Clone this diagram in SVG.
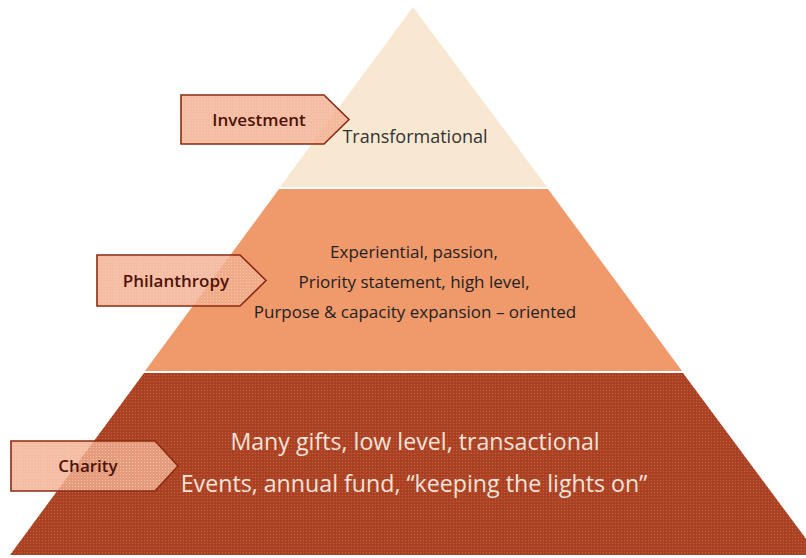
<svg xmlns="http://www.w3.org/2000/svg" width="806" height="558" viewBox="0 0 806 558">
<style>
.lbl{fill:url(#lblpat);stroke:#8A2B12;stroke-width:1.6}
.lt{font-family:"Open Sans","Liberation Sans",sans-serif;font-size:17px;font-weight:600;fill:#4E1207;text-anchor:middle}
.t{font-family:"Open Sans","Liberation Sans",sans-serif;text-anchor:middle}
</style>
<defs>
<pattern id="darkpat" width="3" height="3" patternUnits="userSpaceOnUse">
<rect width="3" height="3" fill="#AD4325"/>
<rect x="0" y="0" width="1" height="1" fill="#C7603E"/>
<rect x="1.5" y="1.5" width="1" height="1" fill="#9A381C"/>
</pattern>
<pattern id="lblpat" width="3" height="3" patternUnits="userSpaceOnUse">
<rect width="3" height="3" fill="#F3AE90" fill-opacity="0.82"/>
<rect x="0" y="0" width="1" height="1" fill="#F8CDB8" fill-opacity="0.8"/>
</pattern>
</defs>
<rect width="806" height="558" fill="#FFFFFF"/>
<g id="tier-top">
<polygon points="413,7 547,187 280,187" fill="#F8E8D2"/>
<text class="t" x="415" y="143" font-size="18" fill="#333333">Transformational</text>
</g>
<g id="tier-middle">
<polygon points="279,189 548,189 682,371 145,371" fill="#F0996B"/>
<text class="t" x="414" y="258" font-size="17" fill="#222222">Experiential, passion,</text>
<text class="t" x="414" y="288" font-size="17" fill="#222222">Priority statement, high level,</text>
<text class="t" x="415" y="318" font-size="17" fill="#222222">Purpose &amp; capacity expansion – oriented</text>
</g>
<g id="tier-bottom">
<polygon points="144,373 683,373 818,555 10,555" fill="url(#darkpat)"/>
<text class="t" x="415" y="450" font-size="23.2" fill="#F6E3DA">Many gifts, low level, transactional</text>
<text class="t" x="414" y="492" font-size="23.2" fill="#F6E3DA">Events, annual fund, “keeping the lights on”</text>
</g>
<g id="label-investment">
<polygon class="lbl" points="181,95 324,95 349,119.5 324,144 181,144"/>
<text class="lt" x="259" y="126">Investment</text>
</g>
<g id="label-philanthropy">
<polygon class="lbl" points="97,255 240,255 266,280.5 240,306 97,306"/>
<text class="lt" x="176" y="287">Philanthropy</text>
</g>
<g id="label-charity">
<polygon class="lbl" points="11,441 155,441 178,466 155,491 11,491"/>
<text class="lt" x="88" y="472">Charity</text>
</g>
<g id="connectors"></g>
</svg>
